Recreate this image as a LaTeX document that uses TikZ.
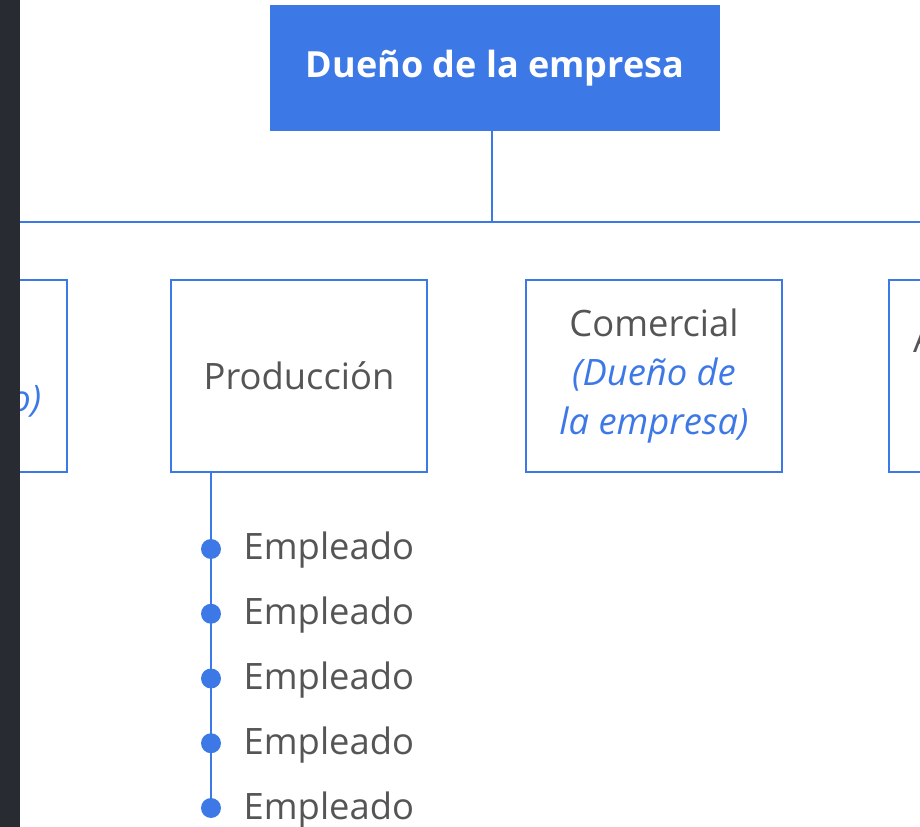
\documentclass[tikz,border=0pt]{standalone}
\usepackage{fontspec}
\setmainfont{Open Sans}
\usetikzlibrary{positioning}
\definecolor{azul}{RGB}{61,121,230}
\definecolor{gris}{RGB}{85,85,85}
\definecolor{barra}{RGB}{40,43,50}
\newcommand\nota[1]{\textcolor{azul}{\itshape #1}}
\tikzset{
  jefe/.style={fill=azul, text=white, minimum width=9cm, minimum height=2.52cm,
    font=\fontsize{20.5}{24}\selectfont\bfseries},
  area/.style={draw=azul, line width=1.4pt, minimum width=5.12cm,
    minimum height=3.84cm, align=center, text=gris,
    font=\fontsize{20.7}{28}\selectfont},
  enlace/.style={draw=azul, line width=1.4pt},
  punto/.style={circle, fill=azul, inner sep=0, minimum size=0.4cm},
  empleado/.style={text=gris, inner sep=0, font=\fontsize{20.7}{24}\selectfont}
}

\begin{document}
\begin{tikzpicture}[x=0.02cm, y=-0.02cm]
  \useasboundingbox (0,0) rectangle (920,827);
  \clip (0,0) rectangle (920,827);

  \node[jefe] (dueno) at (495,68) {Dueño de la empresa};
  \coordinate (barraizq) at (20,222);
  \coordinate (barrader) at (920,222);
  \draw[enlace] (barraizq) -- (barrader);
  \draw[enlace] ([xshift=-0.06cm]dueno.south) -- ([xshift=-0.06cm]dueno.south |- barraizq);

  \node[area] (finanzas)   at (-61,376)  {Finanzas\\\nota{(Contratado)}};
  \node[area] (produccion) at (299,376)  {Producción};
  \node[area] (comercial)  at (654,376)
    {Comercial\\\nota{(Dueño de}\\\nota{la empresa)}};
  \node[area, text width=4.16cm, align=left] (admin) at (1017,376)
    {Administración\\[15pt]\mbox{}};

  % empleados de produccion
  \foreach \i in {1,...,5}{
    \node[punto] (p\i) at (211, 549+64.75*\i-64.75) {};
    \node[empleado, right=0.44cm of p\i.east, anchor=base west, yshift=-0.22cm]
      (emp\i) {Empleado};
  }
  \draw[enlace] (p1 |- produccion.south) -- (p5);

  \fill[barra] (0,0) rectangle (20,827);
\end{tikzpicture}
\end{document}
